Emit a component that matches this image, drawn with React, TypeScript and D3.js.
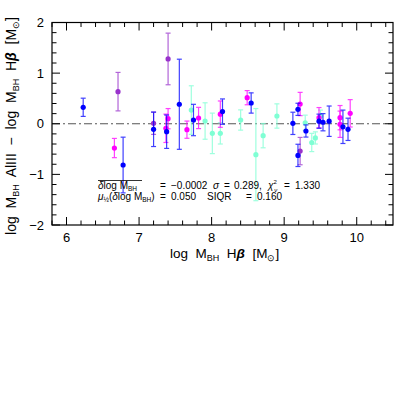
import React from 'react';
import * as d3 from 'd3';

// [log M_BH Hbeta, delta log M_BH, error]
const blueSet = [
  [6.23, 0.325, 0.18], [6.78, -0.815, 0.55], [7.2, -0.11, 0.34], [7.38, -0.157, 0.33],
  [7.555, 0.385, 0.89], [7.75, 0.074, 0.31], [8.15, 0.24, 0.25], [8.545, 0.41, 0.2],
  [9.12, 0.008, 0.22], [9.19, 0.285, 0.12], [9.19, -0.625, 0.22], [9.3, -0.143, 0.12],
  [9.48, 0.05, 0.14], [9.535, 0.03, 0.17], [9.62, 0.05, 0.3], [9.81, -0.06, 0.33],
  [9.88, -0.11, 0.22],
];
const magentaSet = [
  [6.66, -0.48, 0.19], [7.37, -0.09, 0.28], [7.4, 0.1, 0.2], [7.66, -0.117, 0.17],
  [7.82, 0.114, 0.21], [8.12, 0.19, 0.26], [8.49, 0.515, 0.14], [9.22, 0.39, 0.23],
  [9.48, 0.12, 0.2], [9.77, 0.12, 0.24], [9.77, -0.01, 0.26], [9.91, 0.206, 0.27],
];
const purpleSet = [
  [6.71, 0.634, 0.38], [7.2, 0.01, 0.22], [7.4, 1.28, 0.51], [9.22, -0.54, 0.27],
];
const aquaSet = [
  [7.72, 0.27, 0.48], [7.91, 0.054, 0.36], [8.01, -0.19, 0.4], [8.12, -0.19, 0.21],
  [8.4, 0.074, 0.2], [8.61, -0.61, 0.91], [8.71, -0.235, 0.24], [8.9, 0.153, 0.24],
  [9.29, 0.02, 0.15], [9.38, -0.37, 0.18], [9.43, -0.28, 0.12], [9.5, 0.15, 0.12],
];
const xTicks = [6, 7, 8, 9, 10];
const yTicks = [-2, -1, 0, 1, 2];

const layers = [
  { pts: aquaSet, color: '#7fffd4' },
  { pts: purpleSet, color: '#9932cc' },
  { pts: magentaSet, color: '#ff00ff' },
  { pts: blueSet, color: '#0000ff' },
];

const left = 52, right = 393, top = 22.5, bottom = 225;
const font = 'Liberation Sans, Arial, sans-serif';
const pre = { whiteSpace: 'pre' as const };

export default function App() {
  const x = d3.scaleLinear().domain([5.8, 10.5]).range([left, right]);
  const y = d3.scaleLinear().domain([-2, 2]).range([bottom, top]);
  const xMinor = d3.range(5.8, 10.5, 0.2).map(v => +v.toFixed(2));
  const yMinor = d3.range(-2, 2.01, 0.2).map(v => +v.toFixed(2));
  const isMajor = (v: number) => Math.abs(v - Math.round(v)) < 1e-6;
  const cap = 2.5;

  return (
    <svg width={415} height={415} style={{ position: 'absolute', left: 0, top: 0, background: '#fff' }}
      fontFamily={font}>
      {/* zero line */}
      <line x1={left} x2={right} y1={y(0)} y2={y(0)} stroke="#555" strokeWidth={1}
        strokeDasharray="8,3,2,3" />

      {/* ticks */}
      <g stroke="#000" strokeWidth={1}>
        {xMinor.map(v => {
          const len = isMajor(v) ? 8 : 4.5;
          return (
            <g key={'x' + v}>
              <line x1={x(v)} x2={x(v)} y1={bottom} y2={bottom - len} />
              <line x1={x(v)} x2={x(v)} y1={top} y2={top + len} />
            </g>
          );
        })}
        {yMinor.map(v => {
          const len = isMajor(v) ? 8 : 4.5;
          return (
            <g key={'y' + v}>
              <line x1={left} x2={left + len} y1={y(v)} y2={y(v)} />
              <line x1={right} x2={right - len} y1={y(v)} y2={y(v)} />
            </g>
          );
        })}
      </g>

      {/* data */}
      {layers.map((l, li) => (
        <g key={li}>
          {l.pts.map((d, i) => (
            <g key={i} stroke={l.color} strokeWidth={1.2}>
              <g opacity={0.75}>
                <line x1={x(d[0])} x2={x(d[0])} y1={y(d[1] - d[2])} y2={y(d[1] + d[2])} />
                <line x1={x(d[0]) - cap} x2={x(d[0]) + cap} y1={y(d[1] - d[2])} y2={y(d[1] - d[2])} />
                <line x1={x(d[0]) - cap} x2={x(d[0]) + cap} y1={y(d[1] + d[2])} y2={y(d[1] + d[2])} />
              </g>
              <circle cx={x(d[0])} cy={y(d[1])} r={2.6} fill={l.color} stroke="none" />
            </g>
          ))}
        </g>
      ))}

      {/* frame */}
      <rect x={left} y={top} width={right - left} height={bottom - top} fill="none" stroke="#000" strokeWidth={1.2} />

      {/* tick labels */}
      <g fontSize={13} fill="#000">
        {xTicks.map(v => (
          <text key={v} x={x(v)} y={242} textAnchor="middle">{v}</text>
        ))}
        {yTicks.map(v => (
          <text key={v} x={44} y={y(v) + 4.5} textAnchor="end">{v < 0 ? '\u2212' + Math.abs(v) : v}</text>
        ))}
      </g>

      {/* axis labels */}
      <text x={170} y={258} fontSize={13.5} style={pre}>
        log  M<tspan fontSize={9} dy={3}>BH</tspan><tspan dy={-3}>  H</tspan><tspan fontStyle="italic" fontWeight="bold">β</tspan>  [M<tspan fontSize={9} dy={3}>⊙</tspan><tspan dy={-3}>]</tspan>
      </text>
      <text transform="translate(15.5,126) rotate(-90)" fontSize={14} textAnchor="middle" style={pre}>
        log  M<tspan fontSize={9} dy={3}>BH</tspan><tspan dy={-3}>  AlIII  −  log  M</tspan><tspan fontSize={9} dy={3}>BH</tspan><tspan dy={-3}>  H</tspan><tspan fontStyle="italic" fontWeight="bold">β</tspan>  [M<tspan fontSize={9} dy={3}>⊙</tspan><tspan dy={-3}>]</tspan>
      </text>

      {/* statistics */}
      <g fontSize={10}>
        <line x1={98} x2={142} y1={180.5} y2={180.5} stroke="#000" strokeWidth={0.8} />
        <text x={98} y={189}>
          <tspan fontStyle="italic">δ</tspan>log M<tspan fontSize={6.5} dy={2}>BH</tspan>
        </text>
        <text x={160} y={189}>=</text>
        <text x={171} y={189}>−0.0002</text>
        <text x={213} y={189} fontStyle="italic">σ</text>
        <text x={224} y={189}>=</text>
        <text x={234} y={189}>0.289,</text>
        <text x={268} y={189}>
          <tspan fontStyle="italic">χ</tspan><tspan fontSize={6} dy={-5}>2</tspan><tspan fontSize={6} fontStyle="italic" dx={-2.6} dy={8}>ν</tspan>
        </text>
        <text x={284} y={189}>=</text>
        <text x={295} y={189}>1.330</text>

        <text x={98} y={200}>
          <tspan fontStyle="italic">μ</tspan><tspan fontSize={6.5} dy={2}>½</tspan><tspan dy={-2}>(</tspan><tspan fontStyle="italic">δ</tspan>log M<tspan fontSize={6.5} dy={2}>BH</tspan><tspan dy={-2}>)</tspan>
        </text>
        <text x={160} y={200}>=</text>
        <text x={171} y={200}>0.050</text>
        <text x={207} y={200}>SIQR</text>
        <text x={246} y={200}>=</text>
        <text x={257} y={200}>0.160</text>
      </g>
    </svg>
  );
}
